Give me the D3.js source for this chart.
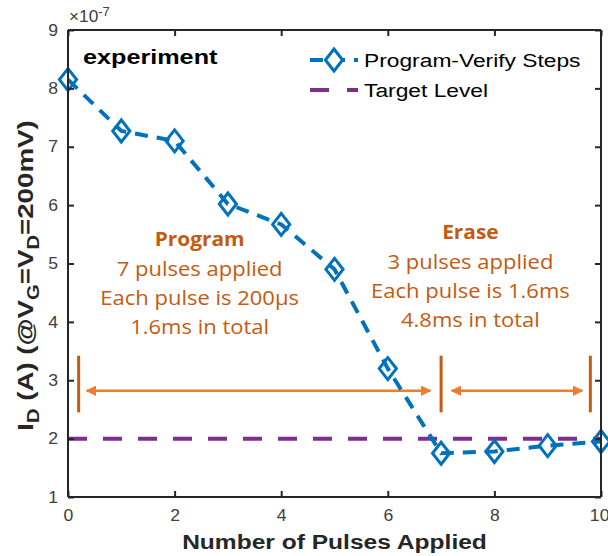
<!DOCTYPE html>
<html><head><meta charset="utf-8">
<script src="https://cdn.jsdelivr.net/npm/d3@7"></script>
<style>body{margin:0;background:#fff}svg{display:block}</style>
</head><body>
<script>
// Drain current measured after each program / erase pulse
const pulses = [0,1,2,3,4,5,6,7,8,9,10];
const currentE7 = [8.15,7.27,7.10,6.02,5.67,4.90,3.20,1.75,1.78,1.88,1.95];
const targetE7 = 2.0;
const xTicks = [0,2,4,6,8,10];
const yTicks = [1,2,3,4,5,6,7,8,9];
const phaseBounds = [0.2,7.0,9.8];
const programLines = ["7 pulses applied","Each pulse is 200\u00b5s","1.6ms in total"];
const eraseLines = ["3 pulses applied","Each pulse is 1.6ms","4.8ms in total"];

const W=608,H=556;
const m={l:68,r:7,t:30,b:59};
const svg=d3.select("body").append("svg").attr("width",W).attr("height",H);
const x=d3.scaleLinear().domain([0,10]).range([m.l,W-m.r]);
const y=d3.scaleLinear().domain([1,9]).range([H-m.b,m.t]);

const axisCol="#262626";
const sans="Liberation Sans, Arial, sans-serif";
const annFont="'Open Sans', Lato, sans-serif";
const SX=1.17; // wide-glyph stretch along the text direction

// text placed at (px,py), optionally rotated, stretched along its baseline
function label(px,py,str,opts={}){
  const t=svg.append("text")
    .attr("transform",`translate(${px},${py})${opts.rot?` rotate(${opts.rot})`:""} scale(${opts.sx||SX},1)`)
    .attr("text-anchor",opts.anchor||"start")
    .attr("font-family",opts.font||sans)
    .attr("font-weight",opts.bold?"bold":"normal")
    .attr("font-size",opts.size||16)
    .attr("fill",opts.fill||axisCol);
  if(str!=null) t.text(str);
  return t;
}

// target level
svg.append("line").attr("x1",x(0)).attr("x2",x(10)).attr("y1",y(targetE7)).attr("y2",y(targetE7))
  .attr("stroke","#7E2F8E").attr("stroke-width",4).attr("stroke-dasharray","19,16");

// phase annotations
const orange="#ED7D31", dark="#C55A11";
phaseBounds.forEach(v=>{
  svg.append("line").attr("x1",x(v)).attr("x2",x(v)).attr("y1",y(3.42)).attr("y2",y(2.45))
    .attr("stroke",dark).attr("stroke-width",3);
});
const defs=svg.append("defs");
defs.append("marker").attr("id","ah").attr("viewBox","0 0 10 10").attr("refX",9).attr("refY",5)
  .attr("markerWidth",4).attr("markerHeight",4).attr("orient","auto-start-reverse")
  .append("path").attr("d","M0,0L10,5L0,10z").attr("fill",orange);
[[0.35,6.8],[7.2,9.65]].forEach(([a,b])=>{
  svg.append("line").attr("x1",x(a)).attr("x2",x(b)).attr("y1",y(2.82)).attr("y2",y(2.82))
    .attr("stroke",orange).attr("stroke-width",2.6)
    .attr("marker-start","url(#ah)").attr("marker-end","url(#ah)");
});
function block(cx,ty,title,lines){
  label(cx,ty,title,{anchor:"middle",font:annFont,bold:true,size:19,fill:dark,sx:1.1});
  lines.forEach((t,i)=>label(cx,ty+30+i*29,t,{anchor:"middle",font:annFont,size:20,fill:dark,sx:1.1}));
}
block(x(2.47),246,"Program",programLines);
block(x(7.55),239,"Erase",eraseLines);

// data line + markers
const line=d3.line().x((d,i)=>x(pulses[i])).y(d=>y(d));
svg.append("path").datum(currentE7).attr("d",line).attr("fill","none")
  .attr("stroke","#0072BD").attr("stroke-width",4).attr("stroke-dasharray","13,9");
const dsz=11;
const diamond=`M0,${-dsz}L${dsz*0.78},0L0,${dsz}L${-dsz*0.78},0Z`;
svg.selectAll("path.mk").data(currentE7).join("path").attr("class","mk")
  .attr("transform",(d,i)=>`translate(${x(pulses[i])},${y(d)})`).attr("d",diamond)
  .attr("fill","none").attr("stroke","#0072BD").attr("stroke-width",3);

// axes box with inward ticks
const gx=svg.append("g").attr("transform",`translate(0,${y(1)})`)
  .call(d3.axisBottom(x).tickValues(xTicks).tickSize(-6).tickPadding(13));
const gxt=svg.append("g").attr("transform",`translate(0,${y(9)})`)
  .call(d3.axisTop(x).tickValues(xTicks).tickSize(-6).tickFormat(""));
const gy=svg.append("g").attr("transform",`translate(${x(0)},0)`)
  .call(d3.axisLeft(y).tickValues(yTicks).tickSize(-6).tickPadding(9));
const gyr=svg.append("g").attr("transform",`translate(${x(10)},0)`)
  .call(d3.axisRight(y).tickValues(yTicks).tickSize(-6).tickFormat(""));
[gx,gxt,gy,gyr].forEach(g=>{
  g.select(".domain").attr("stroke",axisCol).attr("stroke-width",2);
  g.selectAll(".tick line").attr("stroke",axisCol).attr("stroke-width",2);
  g.selectAll("text").attr("font-family",sans).attr("font-size",16).attr("fill","#404040");
});
gx.selectAll(".tick text").attr("transform","scale(1.1,1)");
gx.selectAll(".tick text").filter(d=>d===10).attr("text-anchor","end").attr("dx","0.45em");
gy.selectAll(".tick text").attr("transform","scale(1.1,1)");
gx.selectAll(".domain").attr("d",`M${x(0)},0H${x(10)}`);
gxt.selectAll(".domain").attr("d",`M${x(0)},0H${x(10)}`);
gy.selectAll(".domain").attr("d",`M0,${y(1)}V${y(9)}`);
gyr.selectAll(".domain").attr("d",`M0,${y(1)}V${y(9)}`);

// exponent
const ex=label(x(0)+1,y(9)-8,null,{size:16,sx:1.08,fill:"#404040"});
ex.append("tspan").text("\u00d710");
ex.append("tspan").attr("dy",-6).attr("font-size",12).text("-7");

// in-plot label
label(83,64,"experiment",{bold:true,size:21,fill:"#000",sx:1.2});

// legend
const lg=svg.append("g");
lg.append("line").attr("x1",310).attr("x2",358).attr("y1",60).attr("y2",60)
  .attr("stroke","#0072BD").attr("stroke-width",4).attr("stroke-dasharray","13,9");
lg.append("path").attr("d",diamond).attr("transform","translate(334,60)")
  .attr("fill","#fff").attr("stroke","#0072BD").attr("stroke-width",3);
lg.append("line").attr("x1",310).attr("x2",358).attr("y1",90).attr("y2",90)
  .attr("stroke","#7E2F8E").attr("stroke-width",4).attr("stroke-dasharray","19,18");
label(364,67,"Program-Verify Steps",{size:19,fill:"#000",sx:1.2});
label(364,97,"Target Level",{size:19,fill:"#000",sx:1.2});

// axis titles
label((x(0)+x(10))/2,549,"Number of Pulses Applied",{anchor:"middle",bold:true,size:21});
const yl=label(33,(y(1)+y(9))/2+12,null,{anchor:"middle",bold:true,size:22,rot:-90,sx:1.26});
yl.append("tspan").text("I");
yl.append("tspan").attr("dy",6).attr("font-size",16).text("D");
yl.append("tspan").attr("dy",-6).text(" (A) (@V");
yl.append("tspan").attr("dy",6).attr("font-size",16).text("G");
yl.append("tspan").attr("dy",-6).text("=V");
yl.append("tspan").attr("dy",6).attr("font-size",16).text("D");
yl.append("tspan").attr("dy",-6).text("=200mV)");
</script>
</body></html>
